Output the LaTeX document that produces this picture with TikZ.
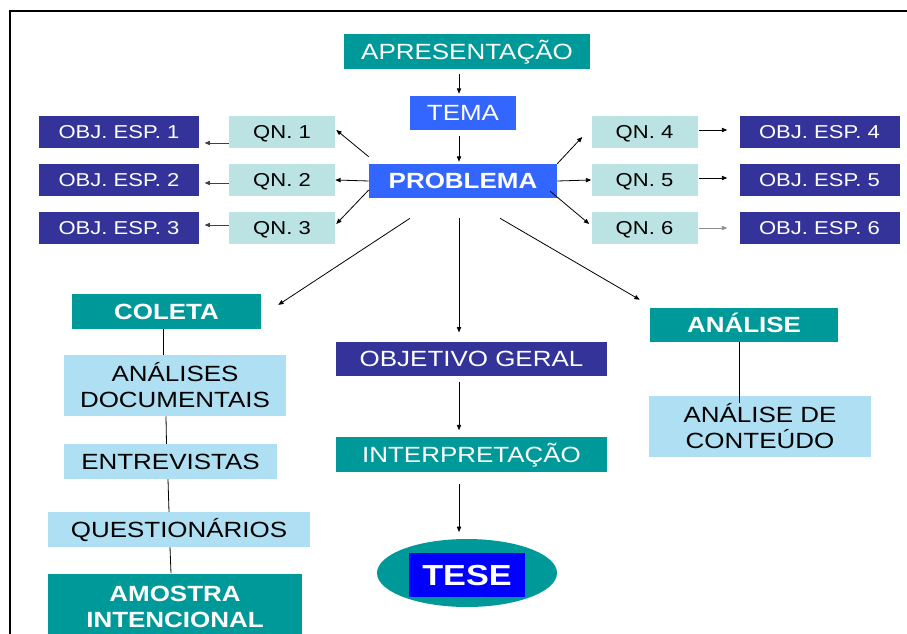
\documentclass[tikz,border=0pt]{standalone}
\usepackage{fontspec}
\setmainfont{Liberation Sans}[FakeStretch=1.18]
\usetikzlibrary{arrows.meta,calc,shapes.geometric}

\definecolor{teal}{HTML}{009999}
\definecolor{brightblue}{HTML}{3366FF}
\definecolor{navy}{HTML}{333399}
\definecolor{qncolor}{HTML}{BCE3E3}
\definecolor{paleblue}{HTML}{AEDFF2}
\definecolor{pureblue}{HTML}{0000FF}

\tikzset{
  box/.style={rectangle, inner sep=0pt, align=center, text=white,
    font=\fontsize{16.5}{19.5}\selectfont},
  onebox/.style={box, text height=11.8pt, text depth=0pt},
  smallbox/.style={onebox, text height=10pt, font=\fontsize{14}{17}\selectfont},
  arr/.style={-{Triangle[length=4pt,width=3.2pt]}, line width=0.6pt},
  link/.style={line width=0.6pt}
}

\begin{document}
\begin{tikzpicture}[x=0.75pt,y=-0.75pt]

    % Picture size in pixels, y going down
    \clip (0,0) rectangle (907,634);
    \useasboundingbox (0,0) rectangle (907,634);

    % Frame on the top and on the left
    \draw[line width=1.5pt] (10,640) -- (10,11) -- (907,11);

    % Column of the main flow
    \coordinate (axis) at (459,0);

    % Main flow at the top
    \node[onebox, fill=teal, minimum width=184.5pt, minimum height=26pt] (apres) at (467,51.5) {APRESENTAÇÃO};
    \node[onebox, fill=brightblue, minimum width=79.5pt, minimum height=25.5pt] (tema) at (463,113) {TEMA};
    \node[onebox, fill=brightblue, minimum width=141pt, minimum height=25.5pt, font=\fontsize{16.5}{19.5}\selectfont\bfseries] (problema) at (463,181) {PROBLEMA};

    % Questions and specific objectives on the left
    \node[smallbox, fill=qncolor, text=black, minimum width=79.5pt, minimum height=24pt] (qn1) at (282,132) {QN. 1};
    \node[smallbox, fill=qncolor, text=black, minimum width=79.5pt, minimum height=24pt] (qn2) at (282,180) {QN. 2};
    \node[smallbox, fill=qncolor, text=black, minimum width=79.5pt, minimum height=24pt] (qn3) at (282,228) {QN. 3};
    \node[smallbox, fill=navy, minimum width=120pt, minimum height=24pt] (obj1) at (119,132) {OBJ. ESP. 1};
    \node[smallbox, fill=navy, minimum width=120pt, minimum height=24pt] (obj2) at (119,180) {OBJ. ESP. 2};
    \node[smallbox, fill=navy, minimum width=120pt, minimum height=24pt] (obj3) at (119,228) {OBJ. ESP. 3};

    % Questions and specific objectives on the right
    \node[smallbox, fill=qncolor, text=black, minimum width=79.5pt, minimum height=24pt] (qn4) at (644.5,132) {QN. 4};
    \node[smallbox, fill=qncolor, text=black, minimum width=79.5pt, minimum height=24pt] (qn5) at (644.5,180) {QN. 5};
    \node[smallbox, fill=qncolor, text=black, minimum width=79.5pt, minimum height=24pt] (qn6) at (644.5,228) {QN. 6};
    \node[smallbox, fill=navy, minimum width=120pt, minimum height=24pt] (obj4) at (819.5,132) {OBJ. ESP. 4};
    \node[smallbox, fill=navy, minimum width=120pt, minimum height=24pt] (obj5) at (819.5,180) {OBJ. ESP. 5};
    \node[smallbox, fill=navy, minimum width=120pt, minimum height=24pt] (obj6) at (819.5,228) {OBJ. ESP. 6};

    % Data collection column
    \node[onebox, fill=teal, minimum width=141.75pt, minimum height=26pt, font=\fontsize{16.5}{19.5}\selectfont\bfseries] (coleta) at (166.5,311.5) {COLETA};
    \node[box, fill=paleblue, text=black, minimum width=166.5pt, minimum height=45.75pt] (analdoc) at (175,385.5) {ANÁLISES\\DOCUMENTAIS};
    \node[onebox, fill=paleblue, text=black, minimum width=159.75pt, minimum height=26pt] (entrev) at (170.5,461.5) {ENTREVISTAS};
    \node[onebox, fill=paleblue, text=black, minimum width=196.5pt, minimum height=26pt] (quest) at (179,529.5) {QUESTIONÁRIOS};
    \node[box, fill=teal, minimum width=190.5pt, minimum height=49.5pt, font=\fontsize{16.5}{19.5}\selectfont\bfseries] (amostra) at (175,606.5) {AMOSTRA\\INTENCIONAL};

    % Middle column down to the thesis
    \node[onebox, fill=navy, minimum width=203.25pt, minimum height=25.5pt] (objger) at (471.5,359) {OBJETIVO GERAL};
    \node[onebox, fill=teal, minimum width=203.25pt, minimum height=26pt] (interp) at (471.5,454.5) {INTERPRETAÇÃO};
    \node[ellipse, fill=teal, minimum width=135pt, minimum height=51pt, inner sep=0pt] (oval) at (467,573) {};
    \node[onebox, fill=pureblue, text height=15.6pt, minimum width=87pt, minimum height=33pt, font=\fontsize{21.75}{26}\selectfont\bfseries] (tese) at (467,575) {TESE};

    % Analysis column
    \node[onebox, fill=teal, minimum width=141pt, minimum height=25.5pt, font=\fontsize{16.5}{19.5}\selectfont\bfseries] (analise) at (744,325) {ANÁLISE};
    \node[box, fill=paleblue, text=black, minimum width=166.5pt, minimum height=45.75pt] (conteudo) at (760,426.5) {ANÁLISE DE\\CONTEÚDO};

    % Arrows of the main flow
    \draw[arr, shorten <=3.5pt, shorten >=1.5pt] (apres.south -| axis) -- (tema.north -| axis);
    \draw[arr, shorten <=4.5pt, shorten >=1.5pt] (tema.south -| axis) -- (problema.north -| axis);
    \draw[arr, shorten <=15pt, shorten >=7pt] (problema.south -| axis) -- (objger.north -| axis);
    \draw[arr, shorten <=4.5pt, shorten >=5pt] (objger.south -| axis) -- (interp.north -| axis);
    \draw[arr, shorten <=9pt, shorten >=5pt] (interp.south -| axis) -- (oval.north -| axis);

    % Arrows from the problem to the questions
    \draw[arr] ($(problema.north west)+(0,-7)$) -- ($(qn1.east)+(1,-2)$);
    \draw[arr] (problema.west) -- (qn2.east);
    \draw[arr] ($(problema.west)+(0,9)$) -- ($(qn3.east)+(1,-4)$);
    \draw[arr] (problema.north east) -- ($(qn4.west)+(-9,5)$);
    \draw[arr] (problema.east) -- (qn5.west);
    \draw[arr] ($(problema.south east)+(-7,-7)$) -- ($(qn6.west)+(-2,-4)$);

    % Arrows from the questions to the objectives
    \draw[arr, black!75, shorten >=4pt] ($(qn1.west)+(0,11)$) -- ($(obj1.east)+(0,11)$);
    \draw[arr, black!75, shorten >=4pt] ($(qn2.west)+(0,3)$) -- ($(obj2.east)+(0,3)$);
    \draw[arr, black!75, shorten >=4pt] ($(qn3.west)+(0,-3)$) -- ($(obj3.east)+(0,-3)$);
    \draw[arr, shorten <=1pt, shorten >=9pt] ($(qn4.east)+(0,-2)$) -- ($(obj4.west)+(0,-2)$);
    \draw[arr, shorten <=1pt, shorten >=9pt] ($(qn5.east)+(0,-2)$) -- ($(obj5.west)+(0,-2)$);
    \draw[arr, black!45, shorten <=1pt, shorten >=9pt] (qn6.east) -- (obj6.west);

    % Arrows from the problem to the collection and the analysis
    \draw[arr] ($(problema.south)+(-53,20)$) -- ($(coleta.north east)+(17,11)$);
    \draw[arr] ($(problema.south)+(37,20)$) -- ($(analise.north west)+(-10,-8)$);

    % Lines joining the collection column
    \draw[link] ($(coleta.south)+(-3.5,0)$) -- ($(analdoc.north)+(-12,0)$);
    \draw[link] ($(analdoc.south)+(-9,0)$) -- ($(entrev.north)+(-4,0)$);
    \draw[link] ($(entrev.south)+(-2.5,0)$) -- ($(quest.north)+(-10,0)$);
    \draw[link] ($(quest.south)+(-9,0)$) -- ($(amostra.north)+(-4,0)$);

    % Line from the analysis into its box
    \draw[link] ($(analise.south)+(-5,0)$) -- ($(conteudo.north)+(-21,7)$);

\end{tikzpicture}
\end{document}
